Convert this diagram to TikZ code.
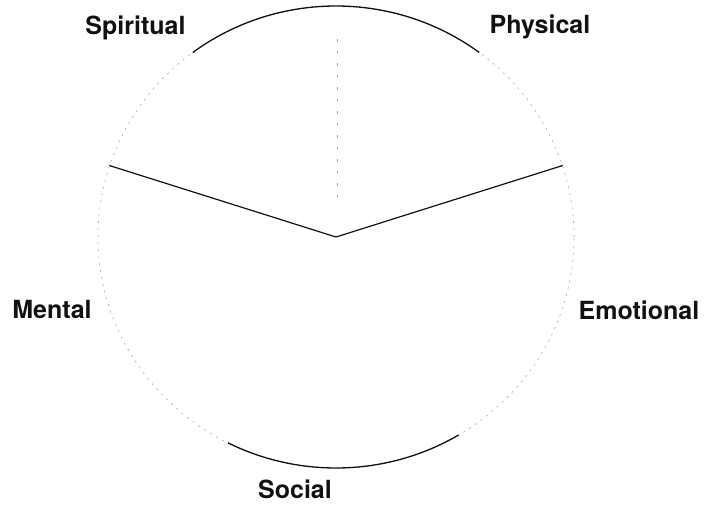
\documentclass[tikz,border=0pt]{standalone}
\usepackage{fontspec}
\setmainfont{TeX Gyre Heros}
\usepackage{tikz}
\usetikzlibrary{calc}
\definecolor{faded}{HTML}{A8A8A8}
\definecolor{ink}{HTML}{111111}

\begin{document}
\begin{tikzpicture}[
    x=1pt,y=1pt,
    lbl/.style={font=\fontsize{25}{30}\selectfont\bfseries,anchor=base,
                inner sep=0pt,text=ink},
    rim/.style={draw=faded,line width=0.6pt,dash pattern=on 2pt off 5pt},
    rimdark/.style={draw=ink,line width=1.3pt},
    spoke/.style={draw=ink,line width=1.2pt,line cap=round},
    ghost/.style={draw=faded,line width=0.7pt,dash pattern=on 3pt off 9pt}
  ]
  \useasboundingbox (0,0) rectangle (704,507);

  % centre of the wheel
  \coordinate (c) at (336,270);

  % rim
  \draw[rim] (c) ellipse[x radius=238,y radius=231];
  \draw[rimdark] ($(c)+(127:238 and 231)$)
        arc[start angle=127,end angle=53,x radius=238,y radius=231];
  \draw[rimdark] ($(c)+(-117:238 and 231)$)
        arc[start angle=-117,end angle=-59,x radius=238,y radius=231];

  % spokes
  \coordinate (sl) at ($(c)+(162:238 and 231)$);
  \coordinate (sr) at ($(c)+(18:238 and 231)$);
  \coordinate (tlo) at (337,309);
  \coordinate (thi) at (337,474);
  \draw[spoke] (sl) -- (c) -- (sr);
  \draw[ghost] (tlo) -- (thi);

  % labels
  \node[lbl] (spiritual) at (135.5,472) {Spiritual};
  \node[lbl] (physical)  at (540,473)   {Physical};
  \node[lbl] (mental)    at (52,189)    {Mental};
  \node[lbl] (emotional) at (639,188)   {Emotional};
  \node[lbl] (social)    at (295,9)     {Social};

\end{tikzpicture}
\end{document}
